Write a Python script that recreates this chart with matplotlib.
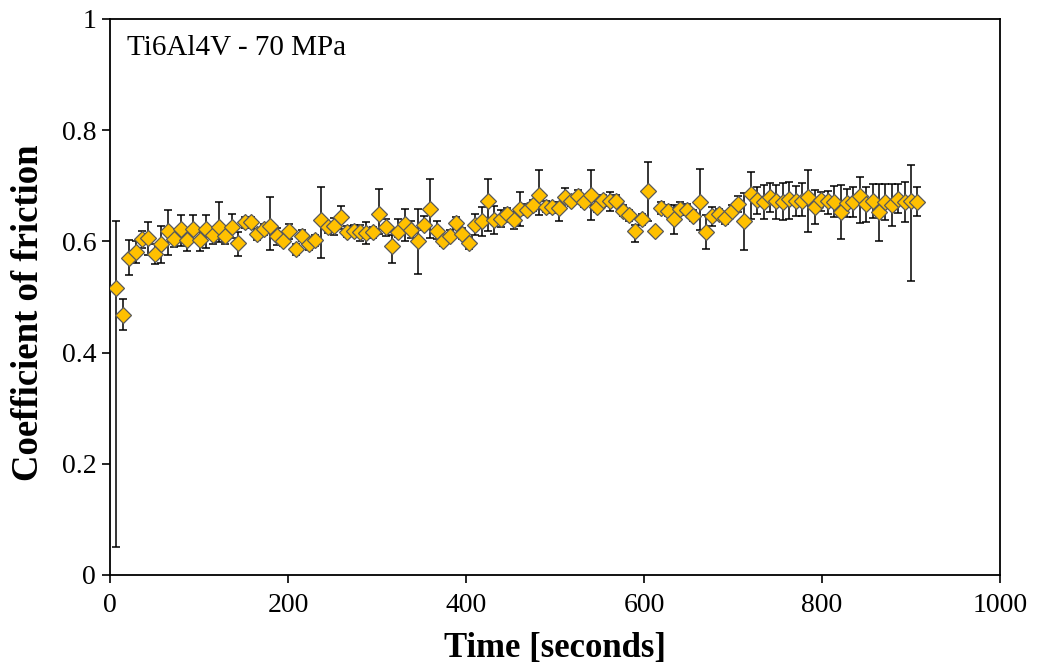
#!/usr/bin/env python3

import numpy as np
import matplotlib.pyplot as plt

# coefficient of friction, one value every 7.2 s
cof = [
    0.517, 0.468, 0.571, 0.581, 0.604, 0.606, 0.577, 0.595, 0.619, 0.605,
    0.622, 0.603, 0.622, 0.602, 0.622, 0.611, 0.626, 0.610, 0.626, 0.597,
    0.634, 0.634, 0.613, 0.622, 0.628, 0.609, 0.601, 0.618, 0.586, 0.610,
    0.595, 0.602, 0.638, 0.625, 0.627, 0.643, 0.617, 0.619, 0.616, 0.615,
    0.616, 0.650, 0.625, 0.592, 0.617, 0.631, 0.621, 0.601, 0.630, 0.658,
    0.619, 0.601, 0.610, 0.633, 0.614, 0.597, 0.630, 0.637, 0.673, 0.638,
    0.641, 0.650, 0.638, 0.658, 0.657, 0.665, 0.683, 0.662, 0.661, 0.660,
    0.680, 0.673, 0.682, 0.671, 0.683, 0.662, 0.674, 0.672, 0.673, 0.655,
    0.647, 0.619, 0.640, 0.691, 0.619, 0.660, 0.655, 0.640, 0.658, 0.657,
    0.646, 0.670, 0.617, 0.645, 0.649, 0.642, 0.655, 0.667, 0.637, 0.685,
    0.674, 0.671, 0.679, 0.672, 0.671, 0.676, 0.672, 0.672, 0.679, 0.661,
    0.674, 0.673, 0.671, 0.653, 0.669, 0.670, 0.682, 0.667, 0.673, 0.652,
    0.671, 0.665, 0.677, 0.670, 0.673, 0.671,
]

err_low = [
    0.467, 0.028, 0.031, 0.020, 0.015, 0.030, 0.018, 0.033, 0.043, 0.015,
    0.030, 0.020, 0.020, 0.020, 0.034, 0.015, 0.028, 0.015, 0.020, 0.023,
    0.010, 0.010, 0.010, 0.010, 0.043, 0.015, 0.010, 0.013, 0.010, 0.010,
    0.010, 0.010, 0.067, 0.010, 0.015, 0.020, 0.010, 0.010, 0.016, 0.020,
    0.010, 0.037, 0.015, 0.031, 0.010, 0.030, 0.015, 0.059, 0.010, 0.052,
    0.015, 0.010, 0.010, 0.010, 0.010, 0.010, 0.018, 0.027, 0.054, 0.024,
    0.015, 0.010, 0.015, 0.030, 0.010, 0.010, 0.036, 0.010, 0.010, 0.024,
    0.010, 0.010, 0.010, 0.010, 0.045, 0.010, 0.010, 0.017, 0.010, 0.010,
    0.010, 0.020, 0.010, 0.054, 0.005, 0.010, 0.010, 0.026, 0.010, 0.010,
    0.010, 0.049, 0.030, 0.018, 0.010, 0.010, 0.010, 0.015, 0.053, 0.044,
    0.024, 0.030, 0.026, 0.031, 0.032, 0.035, 0.027, 0.027, 0.063, 0.030,
    0.019, 0.023, 0.028, 0.049, 0.026, 0.027, 0.049, 0.032, 0.031, 0.051,
    0.033, 0.038, 0.026, 0.036, 0.145, 0.026,
]

err_high = [
    0.120, 0.028, 0.032, 0.020, 0.015, 0.029, 0.018, 0.033, 0.038, 0.015,
    0.025, 0.020, 0.025, 0.020, 0.025, 0.015, 0.045, 0.015, 0.023, 0.020,
    0.010, 0.010, 0.010, 0.010, 0.051, 0.015, 0.010, 0.013, 0.010, 0.010,
    0.010, 0.010, 0.059, 0.010, 0.015, 0.021, 0.010, 0.010, 0.014, 0.019,
    0.010, 0.044, 0.015, 0.020, 0.024, 0.028, 0.015, 0.058, 0.015, 0.055,
    0.018, 0.010, 0.010, 0.010, 0.010, 0.010, 0.020, 0.025, 0.040, 0.026,
    0.015, 0.010, 0.015, 0.030, 0.010, 0.010, 0.045, 0.010, 0.010, 0.010,
    0.016, 0.010, 0.010, 0.010, 0.046, 0.010, 0.010, 0.016, 0.010, 0.010,
    0.010, 0.010, 0.010, 0.052, 0.005, 0.010, 0.010, 0.025, 0.012, 0.010,
    0.010, 0.061, 0.030, 0.017, 0.010, 0.010, 0.010, 0.015, 0.050, 0.039,
    0.024, 0.030, 0.026, 0.030, 0.034, 0.030, 0.027, 0.033, 0.050, 0.031,
    0.015, 0.017, 0.028, 0.049, 0.026, 0.027, 0.034, 0.031, 0.031, 0.051,
    0.032, 0.039, 0.026, 0.036, 0.064, 0.027,
]

time_step = 7.2  # s between samples
time_s = time_step * np.arange(1, len(cof) + 1)

x_ticks = [0, 200, 400, 600, 800, 1000]
y_ticks = [0, 0.2, 0.4, 0.6, 0.8, 1]


def main():
    plt.rcParams['font.family'] = ['Liberation Serif', 'DejaVu Serif']

    fig = plt.figure(figsize=(10.38, 6.71), dpi=100)
    ax = fig.add_axes([0.106, 0.1431, 0.8574, 0.8286])

    ax.errorbar(time_s, cof, yerr=[err_low, err_high], fmt='none',
                ecolor='black', elinewidth=1.1, capsize=2.8, capthick=1.1,
                zorder=2)
    ax.plot(time_s, cof, linestyle='none', marker='D', markersize=7.8,
            markerfacecolor='#FFC000', markeredgecolor='#595959',
            markeredgewidth=0.9, zorder=3)

    ax.set_xlim(0, 1000)
    ax.set_ylim(0, 1)
    ax.set_xticks(x_ticks)
    ax.set_yticks(y_ticks)
    ax.set_yticklabels(['%g' % v for v in y_ticks])
    ax.tick_params(direction='out', length=6, width=1.2, labelsize=20, pad=4)
    ax.tick_params(axis='x', pad=7)
    for sp in ax.spines.values():
        sp.set_linewidth(1.3)

    ax.set_xlabel('Time [seconds]', fontsize=25, fontweight='bold', labelpad=10)
    ax.set_ylabel('Coefficient of friction', fontsize=26.5, fontweight='bold',
                  labelpad=11, y=0.471)

    ax.text(0.019, 0.948, 'Ti6Al4V - 70 MPa', transform=ax.transAxes,
            fontsize=21, ha='left', va='center')

    fig.savefig('out.png', dpi=100)


if __name__ == '__main__':
    main()
